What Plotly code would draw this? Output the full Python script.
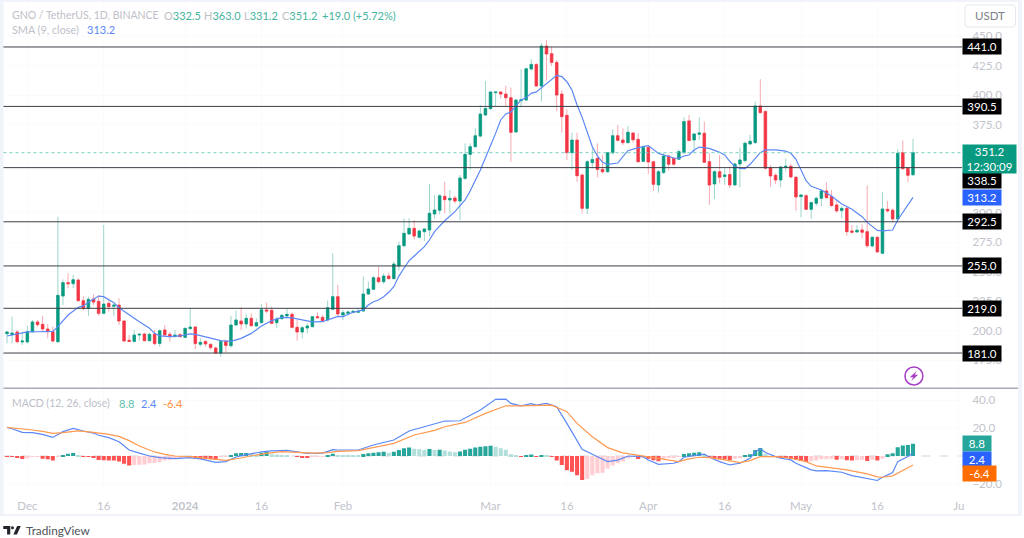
import pandas as pd
import plotly.graph_objects as go

W, H = 1024, 538
START = "2023-11-27"

opens = [197.4,196.6,198.9,190.4,190.4,199.1,207.4,205.4,201.4,199.1,
 190.6,229.4,240.8,239.9,243,225.5,219,226.9,224.9,214.7,
 223.2,220.7,221.8,208.2,191.8,190.9,196.3,197.2,191.5,197.2,
 189.2,200.6,196.9,194.9,196.6,194.3,201.7,203.1,188.4,190.9,
 188.4,185.3,181,190.9,187.2,204.8,208.2,205.7,210.5,204,
 206.8,217.6,217.3,206.8,210.2,212.5,213.9,202.8,198.9,202.3,
 203.4,211.9,211.3,209.1,218.1,228.9,213.3,214.7,215.6,215.6,
 216.7,231.1,235.1,245,241.6,246.4,244.2,254.9,272.2,282.1,
 286.9,279.3,284.1,285.5,299.1,302.2,314.1,311,312.7,310.1,
 329.4,349.8,356.3,365.3,383.2,388.6,402.2,402.7,401,397.9,
 368.8,395.4,395.9,422.3,426.2,407.8,441.8,435.3,427.9,401,
 382.9,351.2,361.9,332.2,303.9,342.7,346.4,337,335,351.2,
 365.6,362,359.7,367.9,362.5,343.8,355.7,343.5,323.8,334.3,
 348.4,346.4,345.6,351.2,378.2,362,366.8,367.7,343.6,324.6,
 335.1,330.9,332.6,323.8,341.6,344.5,358.6,359.8,390.9,386.1,
 338.5,332,328,338.8,339.6,330.3,313.9,314.7,303.1,308.2,
 312.4,318.7,313.9,306.8,302,303.9,284.7,283.9,285.6,284.1,
 272,279.3,265.7,303.1,302.3,294.9,351.2,338,332.5]

highs = [199.7,211.9,200.6,199.1,204.2,209.1,209.1,212.7,205.7,203.4,
 296.8,243.6,248.7,247.3,244.5,229.4,228.9,230.9,230.3,289.8,
 226.6,222.6,227.5,209.1,196.3,200.6,198.3,198.3,198.3,200.6,
 201.1,204.8,199.1,200.6,198.3,202.5,219,204,193.5,191.5,
 189.2,186.4,192.1,192.1,212.5,217,219.8,214.2,214.7,210.5,
 222.4,223.8,220.4,211.9,214.2,219,215.6,209.1,204.2,206.2,
 212.5,215.6,213.3,225.5,265.7,238.8,217.6,217,217.6,219,
 245.9,241.6,246.4,254.4,248.7,249.3,258.6,275.6,295.4,295.4,
 294,286.1,286.9,324.6,315.2,316.1,326.5,319.5,314.6,332.2,
 359.1,359.1,371.9,391.7,412.1,403.6,402.7,403.6,408.1,406.7,
 396.5,422,423.4,430.5,427.1,444.6,446.9,441.2,429.9,404.4,
 388,368.2,368.2,333.6,345,354.9,359.1,349.2,352,371,
 374.7,371.9,373.8,368.5,367.6,357.7,357.7,344.4,336.5,350.7,
 349.3,347.3,354.1,381.3,383.2,367.7,381.3,377.6,350.7,336.5,
 349.3,338,339.4,342.8,355.5,360.6,366.3,394.6,413.6,387.5,
 340.8,333.7,339.9,346.4,341.6,331.4,316.1,316.1,309.6,313.9,
 320.1,326.1,319.5,310.5,305.9,305.4,289.8,289.8,290.4,323.2,
 280.5,280.5,317.6,310.2,303.9,354.1,361.5,338.5,363]

lows = [189.2,189.2,189.2,187.8,189.2,198.3,203.4,199.1,193.5,190.1,
 189.8,221.8,236,236,224.6,217,212.5,221.8,212.5,213.9,
 216.1,212.5,204.8,190.6,190.4,190.1,191.5,190.9,190.9,187.8,
 186.4,195.5,190.6,194.3,194.3,193.8,201.1,184.4,186.4,186.4,
 183.6,180.7,177.9,181.3,185.8,204.2,200.6,202,203.4,203.4,
 206.2,214.7,205.4,202.5,209.1,210.5,202,191.5,193.5,197.7,
 202.8,210.5,207.6,207.9,217.6,211.9,209.1,214.2,214.7,214.7,
 215.6,230.3,234.5,240.2,239.6,243.6,243.6,251,270.8,281.3,
 277.6,278.4,276.2,280.4,295.4,298.8,299.6,299.6,308.1,294,
 328,336.5,355.7,364.2,382.3,387.4,390.8,397.3,390.3,343.5,
 368.2,389.7,395.4,420.8,407.3,394.5,412.4,424.8,386.6,368.2,
 345,336.5,326.3,299.6,299.1,337.9,330.2,333.6,334.2,349.5,
 360.5,357.7,359.1,359.7,342.7,343.3,333.1,318.6,317.3,333.1,
 336,340.2,345,350.7,361.1,350.7,362,342.7,306.8,311.6,
 325.2,323.8,321,322.9,321.8,342.8,357.8,358.6,384.7,337.1,
 322.3,324.6,321.8,335.1,329.5,301.7,296.3,302.5,294.9,305.9,
 305.9,312.4,305.4,300.3,295.4,280.5,282.7,282.7,278.5,270,
 270.6,266.3,265.2,300.3,291.8,294,337.1,326.1,331.2]

closes = [198.9,198,190.6,191.2,199.1,207.4,205.1,201.4,199.1,191.2,
 230,240.8,239.9,243.3,225.5,219,226.6,224.3,214.7,222.6,
 220.4,221.8,208.2,191.2,190.9,196.3,196.9,191.5,196.9,189,
 200,196.3,194.9,196.3,194.9,202,203.1,189,190.1,188.7,
 185.6,181,190.9,187.5,204.8,209.1,205.7,210.5,204.2,206.8,
 217.8,216.7,206.2,209.9,213,213.9,202.8,198.9,202.5,204,
 211.9,211,208.5,219.5,228.9,214.2,215.3,215.9,216.4,216.4,
 231.1,235.4,245,241.6,246.4,244.2,256.6,272.2,282.7,286.9,
 280.4,284.7,286.4,299.7,302.5,314.6,311.3,312.4,310.1,329.7,
 349.8,356.3,365.6,384,388.8,402.7,402.7,401,397.9,368.5,
 395.9,396.2,422.5,426.2,407.8,441.8,435,427.9,400.2,381.8,
 351.2,361.9,331.6,303.9,343.5,345.5,337,335,351.2,365.6,
 361.7,359.7,368.5,362.2,343.5,355.7,343.3,324.3,335.1,348.4,
 341.4,341.4,352.1,377.6,361.5,367.1,368,343,323.8,335.1,
 330.3,332.3,323.8,341.6,345,359.2,360.9,390.9,385.2,338,
 331.4,328,339.1,339.6,330.6,313.6,315.3,303.1,308.8,312.4,
 318.7,313,306.2,301.7,303.9,284.1,283.6,285.3,283.6,272.2,
 279.3,266.9,303.4,301.7,294.9,350.7,337.6,332,351.2]

hist = [-0.2,-0.7,-1.2,-2.1,-1.7,-0.7,-0.6,-1.9,-2.4,-3.3,
 -0.7,0.5,1.7,2.1,0.5,-0.2,-0.5,-1,-2.9,-3.1,
 -3.2,-3.3,-4,-5.5,-6.7,-6.4,-6.2,-6,-5.2,-5,
 -4.3,-3.3,-2.9,-1.9,-1.4,-0.7,-0.2,-1.7,-2.1,-2.2,
 -2.4,-2.9,-0.7,-0.2,0.2,1.9,2.1,2.2,1.4,1,
 2.4,2.9,1.2,1,0.7,0.5,0,-0.7,-0.8,-1.2,
 -0.5,-0.2,-0.1,0.7,1.7,0.7,0.3,0.2,0.2,0.1,
 1.4,1.9,2.4,2.6,3.1,2.4,3.1,4.3,5.5,6,
 5.2,4.8,4.3,5,4.3,4.5,4,3.3,2.6,3.3,
 4.5,5.2,6,6.7,6.9,7.4,6.7,5.5,4.5,1.2,
 0.2,-0.7,0.5,1,-0.5,0.5,0.2,-0.2,-3.3,-6.4,
 -10.2,-11.2,-13.8,-17.1,-16.4,-13.8,-12.4,-11.9,-9,-6.7,
 -5.2,-4,-1.7,-0.7,-2.1,-1.4,-1.9,-3.1,-3.8,-1.9,
 -1.4,-1.2,-0.7,1.4,1.9,2.4,2.6,1,-0.5,-1,
 -1.9,-2.4,-2.9,-1.9,-1,0.5,1.2,4.3,5.7,1.4,
 0,-0.5,-1.4,-1.5,-1.9,-2.9,-3.6,-4.3,-3.8,-3.3,
 -2.4,-2.3,-2.1,-2.6,-2.4,-3.1,-3.3,-3.1,-2.9,-3.6,
 -2.6,-3.3,-1.9,1.2,1.9,6.2,7.6,7.9,8.8]

sma_days = [0,4,6,9,10,12,14,15,16,17,18,19,20,21,22,24,26,28,29,30,32,34,36,37,38,40,42,44,46,48,
 50,52,54,56,58,60,62,64,65,66,68,70,71,72,73,74,75,76,77,78,79,80,82,83,84,86,88,90,91,93,
 95,96,97,98,99,101,102,103,104,105,106,108,109,110,111,112,113,115,116,117,118,120,121,122,124,126,128,
 129,131,132,133,134,135,136,138,140,141,142,143,144,145,146,147,148,149,151,153,154,155,156,157,158,160,
 162,164,166,168,169,171,172,174,175,177,178]
sma_vals = [195.5,198.9,199.1,199.4,203.4,213.3,219.8,221,224.1,226.6,229.4,228.9,226.6,223.8,219.5,213.3,207.6,202,197.7,195.5,
 194.9,195.5,197.2,196.9,195.7,193.5,191.5,190.9,193.5,197.7,
 204,208.5,211.3,210.8,209.1,207.4,207.6,210.5,212.2,211.9,215.6,217.6,221.8,224.6,226,228.9,232.6,237.4,246.4,253,
 259.5,263.4,271.4,277,284.1,293.4,301.1,311,318.6,336.5,
 356.3,367.6,379,384.1,385.8,396,398,401.6,402.8,406.2,409.6,416.9,415.8,411.5,404.5,391.7,381.2,356.3,348.4,343,341.3,342.4,347.8,352.9,355.5,357.2,350.6,
 349.3,346.7,346.4,348.4,349.2,353.5,356,354.9,351.5,349.3,343.9,339.6,337.9,337.6,341.3,346.7,351.2,353.5,353.5,352.6,350.7,345.6,337.1,327.4,322.6,319.5,
 314.4,307.6,303.1,296.8,292,285.2,284.7,285.5,294,306.8,313.2]

macd_days = [0,1,3,5,7,9,11,13,15,17,18,20,22,24,26,28,30,33,36,38,41,43,45,47,50,52,55,57,59,62,64,65,
 69,72,76,79,82,86,89,93,96,98,99,101,103,104,106,108,110,111,113,116,118,120,122,125,126,128,131,
 132,133,135,137,138,140,142,144,146,147,148,149,151,152,154,155,158,159,161,164,166,169,171,172,173,174,175,177,178]
macd_vals = [20.5,19.5,16.9,16.7,15.5,13.3,17.4,19.8,17.9,16.4,14.8,13.1,10.2,4.3,2.1,0,-1.2,-1.9,-1.2,-2.1,-4.5,-4,-0.7,1,2.9,3.6,4,3.1,1.9,2.1,4.5,4.3,
 4.3,7.9,11.4,17.9,20.9,25,25.2,32.9,40.5,40.7,37.6,35.9,37.4,36.4,37.6,35.2,23.3,17.4,4.8,-0.5,-4,-2.9,0,-0.5,-2.9,-6,-5.2,
 -4,-0.9,0.3,1.3,-0.9,-4,-6.4,-5.2,-1.6,3.2,5.1,2.5,-0.4,-1.6,-2.8,-5.2,-9.9,-10.6,-10.4,-11.6,-14,-15.9,-17.5,-15.2,-13.5,-11.8,-4,-0.4,2.4]

signal_days = [0,3,5,7,9,11,14,17,20,22,24,26,29,31,33,36,40,43,46,48,51,54,57,60,63,65,
 69,72,76,80,84,86,90,94,98,101,107,110,112,115,118,121,124,127,
 132,134,136,138,141,144,146,148,151,154,157,159,165,169,171,172,174,176,178]
signal_vals = [20.5,19.5,18.6,17.6,16.2,16.7,17.9,16.9,15.5,14,11,7.1,2.9,1.2,0,-0.5,-1.7,-3.1,-1.4,0.2,1.9,3.1,2.6,2.1,2.4,3.3,
 3.8,6,9,15,18.3,20.9,24,30.5,35.9,35.9,36.4,31.7,23.3,13.8,6,2.2,0.7,-1.2,
 -4,-2.1,-0.9,-1.1,-2.8,-4.7,-3.3,-0.4,-0.4,-1.6,-4,-7.1,-9.9,-12.8,-14.9,-15.2,-14.2,-10.4,-6.4]

level_values = [441.0, 390.5, 338.5, 292.5, 255.0, 219.0, 181.0]
price_ticks = [450, 425, 400, 375, 300, 275, 250, 225, 200, 175]
macd_ticks = [40, 20, -20]
time_ticks = ["2023-12-01", "2023-12-16", "2024-01-01", "2024-01-16", "2024-02-01", "2024-03-01",
              "2024-03-16", "2024-04-01", "2024-04-16", "2024-05-01", "2024-05-16", "2024-06-01"]
time_labels = ["Dec", "16", "<b>2024</b>", "16", "Feb", "Mar", "16", "Apr", "16", "May", "16", "Ju"]

assert len(opens) == len(highs) == len(lows) == len(closes) == len(hist) == 179
assert len(sma_days) == len(sma_vals) and len(macd_days) == len(macd_vals) and len(signal_days) == len(signal_vals)

dates = pd.date_range(START, periods=len(closes), freq="D")
FONT = "Lato, 'Noto Sans', sans-serif"
UP, DOWN = "#089981", "#f23645"
UP_W, DOWN_W = "#9bd6cb", "#f9aab1"
BLUE, ORANGE = "#5c88f6", "#ff9a50"
TXT = "#bec0c8"


def px(x):
    return x / W


def py(y):
    return 1 - y / H


def hist_color(i):
    v, p = hist[i], hist[i - 1] if i else hist[i]
    if v >= 0:
        return "#26a69a" if p < v else "#b2dfdb"
    return "#ffcdd2" if p < v else "#ff5252"


def path(points, close=True):
    s = "M " + " L ".join(f"{px(a):.5f},{py(b):.5f}" for a, b in points)
    return s + (" Z" if close else "")


def round_rect(x0, y0, x1, y1, r):
    X = lambda a: f"{px(a):.5f}"
    Y = lambda b: f"{py(b):.5f}"
    return (f"M {X(x0+r)},{Y(y0)} L {X(x1-r)},{Y(y0)} Q {X(x1)},{Y(y0)} {X(x1)},{Y(y0+r)} "
            f"L {X(x1)},{Y(y1-r)} Q {X(x1)},{Y(y1)} {X(x1-r)},{Y(y1)} L {X(x0+r)},{Y(y1)} "
            f"Q {X(x0)},{Y(y1)} {X(x0)},{Y(y1-r)} L {X(x0)},{Y(y0+r)} Q {X(x0)},{Y(y0)} {X(x0+r)},{Y(y0)} Z")


fig = go.Figure()

fig.add_trace(go.Bar(x=dates, y=hist, yaxis="y2", width=0.8 * 86400000,
                     marker=dict(color=[hist_color(i) for i in range(len(hist))], line_width=0),
                     hoverinfo="skip"))
fig.add_trace(go.Scatter(x=dates[macd_days], y=macd_vals, yaxis="y2", mode="lines",
                         line=dict(color=BLUE, width=1.2), hoverinfo="skip"))
fig.add_trace(go.Scatter(x=dates[signal_days], y=signal_vals, yaxis="y2", mode="lines",
                         line=dict(color=ORANGE, width=1.2), hoverinfo="skip"))

fig.add_trace(go.Candlestick(x=dates, open=opens, high=highs, low=lows, close=closes,
                             whiskerwidth=0,
                             increasing=dict(line=dict(color=UP_W, width=1), fillcolor=UP_W),
                             decreasing=dict(line=dict(color=DOWN_W, width=1), fillcolor=DOWN_W),
                             hoverinfo="skip"))
fig.add_trace(go.Candlestick(x=dates, open=opens, close=closes,
                             high=[max(a, b) for a, b in zip(opens, closes)],
                             low=[min(a, b) for a, b in zip(opens, closes)],
                             whiskerwidth=0,
                             increasing=dict(line=dict(color=UP, width=0.6), fillcolor=UP),
                             decreasing=dict(line=dict(color=DOWN, width=0.6), fillcolor=DOWN),
                             hoverinfo="skip"))
fig.add_trace(go.Scatter(x=dates[sma_days], y=sma_vals, mode="lines",
                         line=dict(color=BLUE, width=1.2), hoverinfo="skip"))

shapes = []
# page frame
for x0, y0, x1, y1 in [(0, 0, 3.5, 516), (0, 0, 1024, 2), (1020, 0, 1024, 516), (0, 514, 1024, 516)]:
    shapes.append(dict(type="rect", xref="paper", yref="paper", x0=px(x0), x1=px(x1), y0=py(y1), y1=py(y0),
                       fillcolor="#f0f3fa", line_width=0, layer="below"))
# pane separator
shapes.append(dict(type="line", xref="paper", yref="paper", x0=px(3.5), x1=px(1020), y0=py(388.3), y1=py(388.3),
                   line=dict(color="#a9abb3", width=1.5)))
# MACD zero line
shapes.append(dict(type="line", xref="paper", yref="y2", x0=px(3.5), x1=px(964), y0=0, y1=0,
                   line=dict(color="#d3d5dc", width=1, dash="dash"), layer="below"))
# last price line
shapes.append(dict(type="line", xref="paper", yref="y", x0=px(3.5), x1=px(964), y0=closes[-1], y1=closes[-1],
                   line=dict(color="#79cfc0", width=1, dash="dot")))
# levels
for v in level_values:
    shapes.append(dict(type="line", xref="paper", yref="y", x0=px(3.5), x1=px(964), y0=v, y1=v,
                       line=dict(color="#3c3f47", width=1)))
# USDT button
shapes.append(dict(type="path", xref="paper", yref="paper", path=round_rect(967, 5, 1017.5, 27, 3),
                   line=dict(color="#e6e8ef", width=1), fillcolor="white"))
# lightning icon
shapes.append(dict(type="circle", xref="paper", yref="paper", x0=px(906.7), x1=px(924.7), y0=py(385), y1=py(367),
                   line=dict(color="#a63fc7", width=1.5), fillcolor="white"))
shapes.append(dict(type="path", xref="paper", yref="paper", line_width=0, fillcolor="#a63fc7",
                   path=path([(918.5, 371), (911.5, 377.3), (915, 377.3), (913, 381), (920, 374.7), (916.5, 374.7)])))
# TradingView mark
shapes.append(dict(type="path", xref="paper", yref="paper", line_width=0, fillcolor="#22252c",
                   path=path([(3.3, 526), (10.3, 526), (10.3, 534.5), (7.1, 534.5), (7.1, 529), (3.3, 529)])))
shapes.append(dict(type="circle", xref="paper", yref="paper", x0=px(11), x1=px(14), y0=py(529.2), y1=py(526.2),
                   line_width=0, fillcolor="#22252c"))
shapes.append(dict(type="path", xref="paper", yref="paper", line_width=0, fillcolor="#22252c",
                   path=path([(17.2, 526), (20.8, 526), (17, 534.5), (13.4, 534.5)])))

ann = []


def text(x, y, s, color=TXT, size=11, anchor="left"):
    ann.append(dict(xref="paper", yref="paper", x=px(x), y=py(y), text=s, showarrow=False, xanchor=anchor,
                    yanchor="middle", font=dict(family=FONT, size=size, color=color), align="left", borderpad=0))


def tag(v, s, fill, width=38, shift=0, yref="y", h=14.5, color="white", size=11.5):
    ann.append(dict(xref="paper", yref=yref, x=px(964), y=v, text=s, showarrow=False, xanchor="left", yanchor="middle",
                    yshift=shift, bgcolor=fill, width=width, height=h, borderpad=0, align="center",
                    font=dict(family=FONT, size=size, color=color)))


G, B = "#45b39d", "#5c88f6"
text(11, 15, "GNO / TetherUS, 1D, BINANCE", size=10.5)
text(163, 15, f"O<span style='color:{G}'>{opens[-1]:.1f}</span>")
text(203, 15, f"H<span style='color:{G}'>{highs[-1]:.1f}</span>")
text(243, 15, f"L<span style='color:{G}'>{lows[-1]:.1f}</span>")
text(282, 15, f"C<span style='color:{G}'>{closes[-1]:.1f}</span>")
text(322, 15, "+19.0 (+5.72%)", G)
text(11, 30, "SMA (9, close)", size=10.8)
text(86, 30, f"{sma_vals[-1]:.1f}", B)
text(11, 403, "MACD (12, 26, close)", size=10.5)
text(118, 403, f"{hist[-1]:.1f}", "#5fbfae")
text(140, 403, f"{macd_vals[-1]:.1f}", B)
text(162, 403, f"{signal_vals[-1]:.1f}", "#ff8f3f")
text(992.3, 16, "USDT", "#7d808a", 11.5, "center")
text(25, 530.5, "TradingView", "#50535b", 11.8)

for v in level_values:
    tag(v, f"{v:.1f}", "#000000", shift=(-13 if v == 338.5 else 0))
tag(sma_vals[-1], f"{sma_vals[-1]:.1f}", "#2962ff")
tag(closes[-1], f"{closes[-1]:.1f}<br>12:30:09", UP, width=53, shift=-6, h=28)
tag(hist[-1], f"{hist[-1]:.1f}", "#26a69a", width=28, yref="y2", h=15)
tag(macd_vals[-1], f"{macd_vals[-1]:.1f}", "#2962ff", width=28, yref="y2", shift=-6.5, h=15)
tag(signal_vals[-1], f"{signal_vals[-1]:.1f}", "#ff6d00", width=33, yref="y2", shift=-9, h=15)

tickfont = dict(family=FONT, size=11.5, color="#c2c4cc")
fig.update_layout(
    width=W, height=H, autosize=False,
    margin=dict(l=0, r=0, t=0, b=0),
    paper_bgcolor="white", plot_bgcolor="white",
    showlegend=False, boxgap=0.3, bargap=0.2,
    hovermode=False, dragmode=False,
    shapes=shapes, annotations=ann,
    xaxis=dict(domain=[px(3.5), px(964)], anchor="y2", type="date",
               range=["2023-11-26 07:30", "2024-06-01 15:36"],
               tickmode="array", tickvals=time_ticks, ticktext=time_labels,
               tickfont=tickfont, ticks="outside", ticklen=5, tickcolor="rgba(0,0,0,0)",
               showgrid=True, gridcolor="#fafbfc", gridwidth=1, zeroline=False, showline=False,
               rangeslider=dict(visible=False), fixedrange=True),
    yaxis=dict(domain=[py(388), py(2)], anchor="x", side="right", range=[151.3, 479.2],
               tickmode="array", tickvals=price_ticks, tickformat=".1f", tickfont=tickfont,
               ticks="outside", ticklen=7, tickcolor="rgba(0,0,0,0)",
               showgrid=True, gridcolor="#fafbfc", zeroline=False, showline=False, fixedrange=True),
    yaxis2=dict(domain=[py(490), py(389)], anchor="x", side="right", range=[-24.3, 47.9],
                tickmode="array", tickvals=macd_ticks, tickformat=".1f", tickfont=tickfont,
                ticks="outside", ticklen=7, tickcolor="rgba(0,0,0,0)",
                showgrid=True, gridcolor="#fafbfc", zeroline=False, showline=False, fixedrange=True),
)

fig.write_html("out.html", config=dict(displayModeBar=False),
               post_script="document.body.style.margin='0';document.documentElement.style.overflow='hidden';")
